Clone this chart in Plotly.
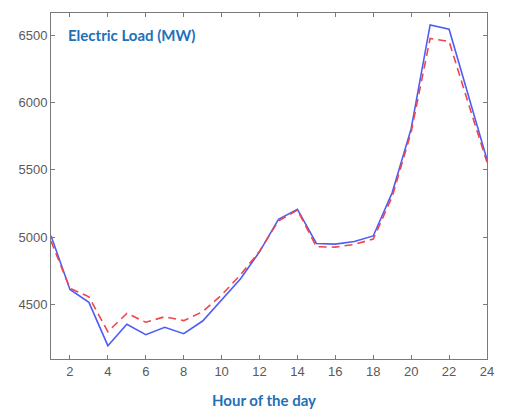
import plotly.graph_objects as go

hours = list(range(1, 25))
actual = [5010, 4611, 4515, 4193, 4352, 4275, 4330, 4282, 4376, 4530,
          4690, 4890, 5132, 5206, 4952, 4947, 4967, 5008, 5330, 5805,
          6576, 6544, 6060, 5575]
forecast = [4970, 4619, 4556, 4297, 4433, 4367, 4408, 4379, 4445, 4570,
            4720, 4895, 5120, 5200, 4928, 4925, 4945, 4985, 5300, 5780,
            6475, 6453, 6000, 5555]
x_ticks = list(range(2, 25, 2))
y_ticks = [4500, 5000, 5500, 6000, 6500]

fig = go.Figure()
fig.add_trace(go.Scatter(x=hours, y=actual, mode="lines",
                         line=dict(color="#4f5cf5", width=1.6)))
fig.add_trace(go.Scatter(x=hours, y=forecast, mode="lines",
                         line=dict(color="#f0454a", width=1.6, dash="8px,5px")))

axis_style = dict(showline=True, linecolor="#7a7a7a", linewidth=1, mirror="ticks",
                  ticks="inside", ticklen=4, tickcolor="#7a7a7a", showgrid=False,
                  zeroline=False, tickfont=dict(family="Liberation Sans", size=13, color="#5a5a5a"))

fig.update_xaxes(range=[1, 24], tickvals=x_ticks, **axis_style)
fig.update_yaxes(range=[4094, 6664], tickvals=y_ticks, **axis_style)

fig.add_annotation(text="<b>Electric Load (MW)</b>", xref="paper", yref="paper",
                   x=0.035, y=0.935, xanchor="left", yanchor="middle", showarrow=False,
                   font=dict(family="Lato", size=15, color="#2270b8"))
fig.add_annotation(text="<b>Hour of the day</b>", xref="paper", yref="paper",
                   x=0.488, y=-0.118, xanchor="center", yanchor="middle", showarrow=False,
                   font=dict(family="Lato", size=15, color="#2270b8"))

fig.update_layout(width=506, height=410, margin=dict(l=51, r=15, t=12, b=51),
                  plot_bgcolor="white", paper_bgcolor="white", showlegend=False)

fig.write_html("out.html")
